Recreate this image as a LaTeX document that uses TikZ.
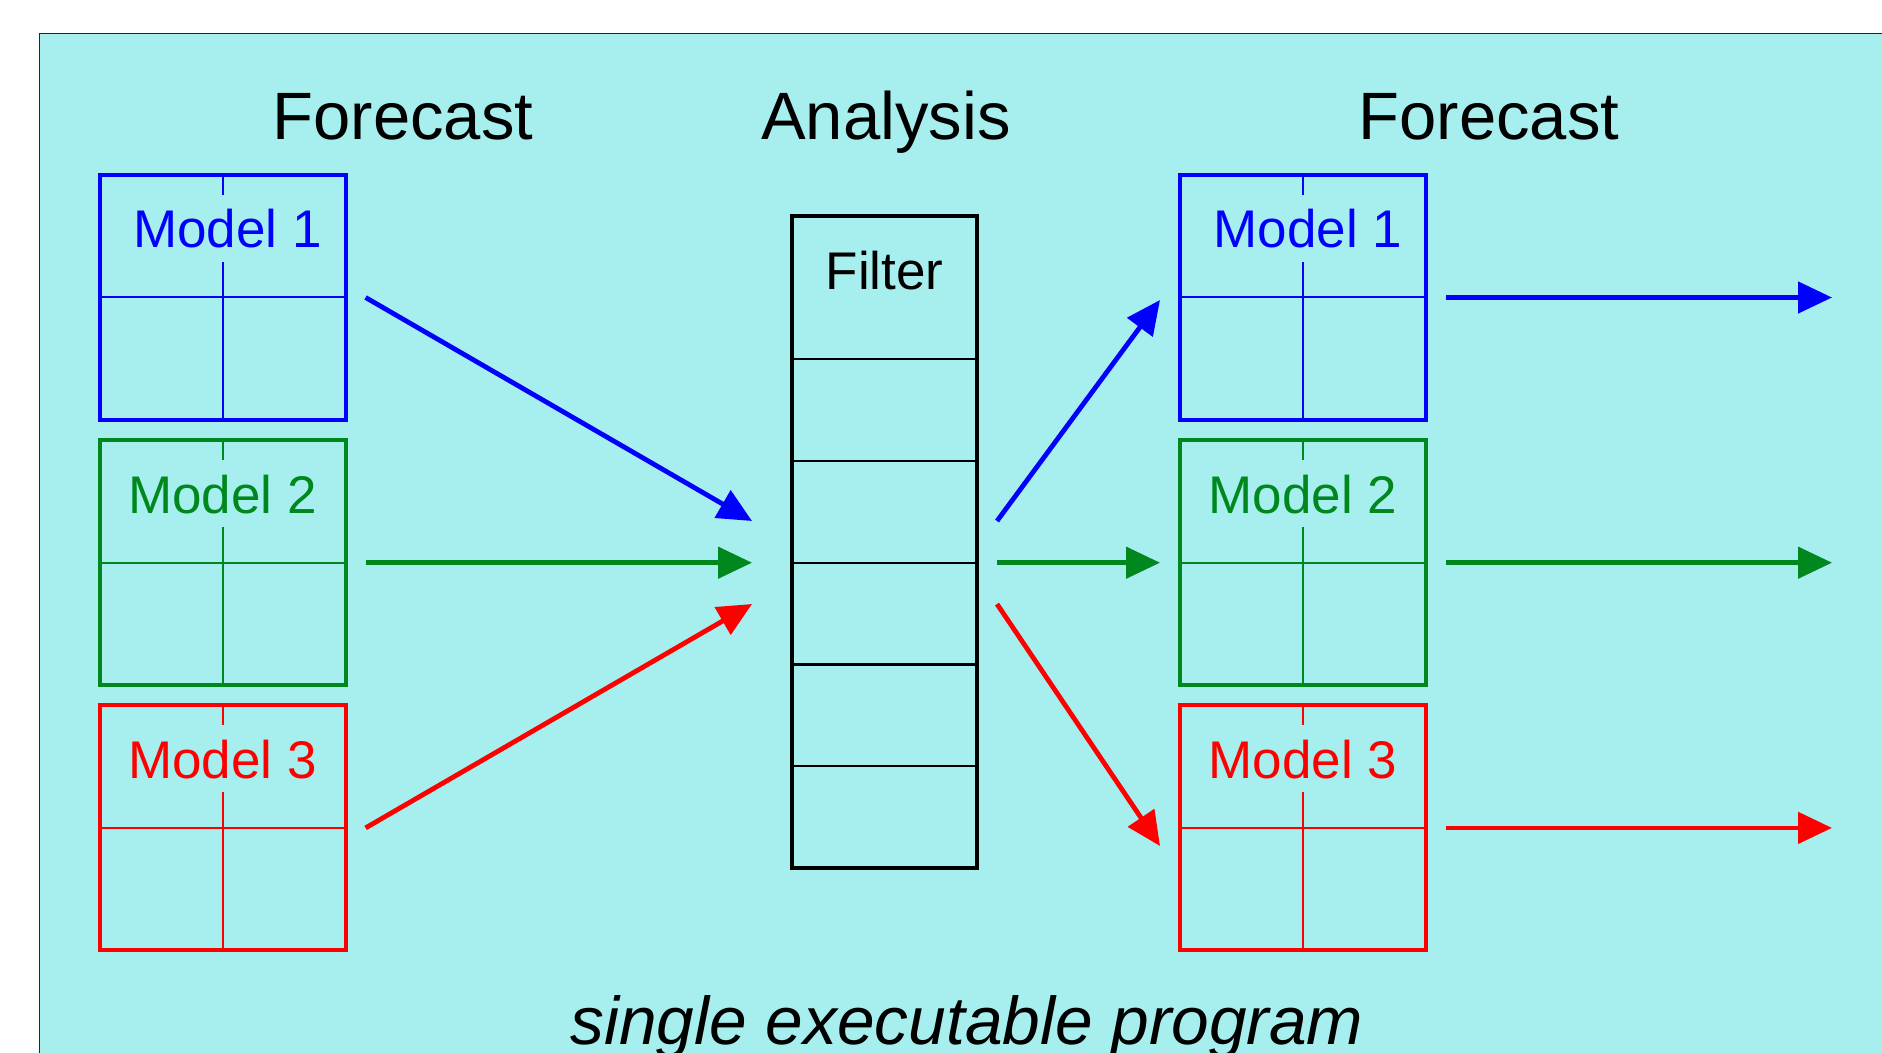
\documentclass[tikz,border=0pt]{standalone}
\usepackage{fontspec}
\setmainfont{Liberation Sans}
\setsansfont{Liberation Sans}
\usepackage{xcolor}
\usepackage{tikz}
\usetikzlibrary{arrows.meta,positioning,calc}
\definecolor{bgcyan}{RGB}{166,239,238}
\definecolor{mgreen}{RGB}{0,136,30}
\tikzset{
model/.style = {draw, color=#1, line width=2pt, outer sep=0pt, inner sep=0pt,
    minimum width=123pt, minimum height=122.5pt,
    path picture={
      \draw[line width=1pt] (path picture bounding box.west) -- (path picture bounding box.east);
      \draw[line width=1pt] (path picture bounding box.north) -- ++(0,-10pt);
      \draw[line width=1pt] ([yshift=-43.5pt]path picture bounding box.north) -- (path picture bounding box.south);
    }},
mlabel/.style = {text=#1, anchor=base, inner sep=0pt, font=\fontsize{26.5pt}{30pt}\selectfont},
head/.style = {anchor=base, inner sep=0pt, font=\fontsize{33.5pt}{40pt}\selectfont},
filterbox/.style = {draw, line width=2.2pt, outer sep=0pt, minimum width=92.5pt, minimum height=326pt},
conn/.style = {draw=#1, line width=2.4pt, -{Triangle[length=17pt,width=15.5pt]}}
}
\begin{document}
\begin{tikzpicture}[node distance=132.6pt]
    \useasboundingbox (0,0) rectangle (941pt,-526.5pt);
    \clip (0,0) rectangle (941pt,-526.5pt);
    \fill [bgcyan] (19.8pt,-16.8pt) rectangle (960pt,-560pt);
    \draw [line width=0.75pt, black!85] (19.8pt,-560pt) |- (960pt,-16.8pt);

    % titles
    \node [head] (fcleft) at (201.5pt,-70pt) {Forecast};
    \node [head] (anl) at (443pt,-70pt) {Analysis};
    \node [head] (fcright) at (744.5pt,-70pt) {Forecast};

    % model columns
    \node [model=blue] (lmod1) at (111.3pt,-148.75pt) {};
    \node [model=mgreen, below of=lmod1] (lmod2) {};
    \node [model=red, below of=lmod2] (lmod3) {};
    \node [model=blue, right of=lmod1, node distance=540.2pt] (rmod1) {};
    \node [model=mgreen, right of=lmod2, node distance=540.2pt] (rmod2) {};
    \node [model=red, right of=lmod3, node distance=540.2pt] (rmod3) {};

    \node [mlabel=blue] at ([xshift=2.5pt,yshift=-36.5pt]lmod1.north) {Model 1};
    \node [mlabel=mgreen] at ([yshift=-36.5pt]lmod2.north) {Model 2};
    \node [mlabel=red] at ([yshift=-36.5pt]lmod3.north) {Model 3};
    \node [mlabel=blue] at ([xshift=2.5pt,yshift=-36.5pt]rmod1.north) {Model 1};
    \node [mlabel=mgreen] at ([yshift=-36.5pt]rmod2.north) {Model 2};
    \node [mlabel=red] at ([yshift=-36.5pt]rmod3.north) {Model 3};

    % filter
    \node [filterbox] (filt) at (442.25pt,-271pt) {};
    \node [mlabel=black] (filtlabel) at ([yshift=-37pt]filt.north) {Filter};
    \draw [line width=1.1pt] ([yshift=-71.5pt]filt.north west) -- ([yshift=-71.5pt]filt.north east);
    \draw [line width=1.1pt] ([yshift=-122.4pt]filt.north west) -- ([yshift=-122.4pt]filt.north east);
    \draw [line width=1.1pt] ([yshift=-173.3pt]filt.north west) -- ([yshift=-173.3pt]filt.north east);
    \draw [line width=1.1pt] ([yshift=-224.2pt]filt.north west) -- ([yshift=-224.2pt]filt.north east);
    \draw [line width=1.1pt] ([yshift=-275.1pt]filt.north west) -- ([yshift=-275.1pt]filt.north east);

    % ends of the connectors
    \coordinate (inB) at ([xshift=-20pt]filt.west |- 0,-260.5pt);
    \coordinate (inG) at ([xshift=-20pt]filt.west |- lmod2);
    \coordinate (inR) at ([xshift=-20pt]filt.west |- 0,-302pt);
    \coordinate (outB) at ([xshift=10pt]filt.east |- inB);
    \coordinate (outG) at ([xshift=10pt]filt.east |- inG);
    \coordinate (outR) at ([xshift=10pt]filt.east |- inR);
    \coordinate (toB) at ([xshift=-10pt]rmod1.west |- 0,-150pt);
    \coordinate (toG) at ([xshift=-10pt]rmod2.west);
    \coordinate (toR) at ([xshift=-10pt]rmod3.west |- 0,-423pt);
    \coordinate (nextB) at ([xshift=203pt]rmod1.east);
    \coordinate (nextG) at ([xshift=203pt]rmod2.east);
    \coordinate (nextR) at ([xshift=203pt]rmod3.east);

    \draw [conn=blue] ([xshift=10pt]lmod1.east) -- (inB);
    \draw [conn=mgreen] ([xshift=10pt]lmod2.east) -- (inG);
    \draw [conn=red] ([xshift=10pt]lmod3.east) -- (inR);
    \draw [conn=blue] (outB) -- (toB);
    \draw [conn=mgreen] (outG) -- (toG);
    \draw [conn=red] (outR) -- (toR);
    \draw [conn=blue] ([xshift=10pt]rmod1.east) -- (nextB);
    \draw [conn=mgreen] ([xshift=10pt]rmod2.east) -- (nextG);
    \draw [conn=red] ([xshift=10pt]rmod3.east) -- (nextR);

    \node [head, font=\fontsize{33.8pt}{40pt}\selectfont\itshape] (prog) at (483.5pt,-522pt) {single executable program};
\end{tikzpicture}
\end{document}
